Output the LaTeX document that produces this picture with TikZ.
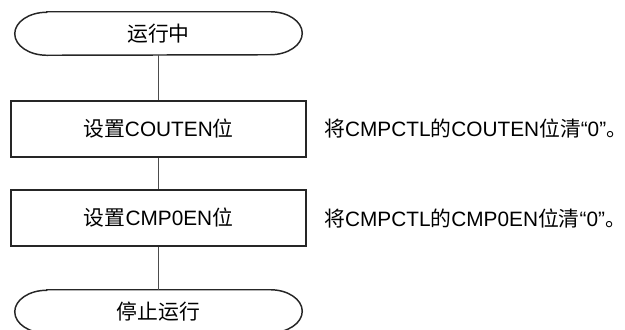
\documentclass[tikz,border=0pt]{standalone}
\usepackage{fontspec}
\setmainfont{Liberation Sans}
\newfontfamily\cjk{Noto Sans CJK SC}
\newcommand\fullstopmark{{\cjk\makebox[0.5em][l]{。}}}
\begin{document}
\begin{tikzpicture}[x=0.75pt,y=-0.75pt,
  txt/.style={font=\fontsize{15.6}{19}\selectfont},
  box/.style={txt,draw=black!85,line width=1.4pt,minimum width=221.25pt,minimum height=42pt,inner sep=0pt},
  term/.style={txt,minimum width=215.25pt,minimum height=32.25pt,inner sep=0pt},
  termline/.style={draw=black!85,line width=1.1pt},
  link/.style={draw=black!70,line width=0.8pt},
  note/.style={txt,anchor=west,inner sep=0pt}]
\useasboundingbox (0,0) rectangle (625,329);
\node[term] (t1) at (158.5,33.5) {\cjk 运行中};
\node[box] (b1) at (158.5,129) {{\cjk 设置}COUTEN{\cjk 位}};
\node[box] (b2) at (158.5,218) {{\cjk 设置}CMP0EN{\cjk 位}};
\node[term] (t2) at (158.5,311.5) {\cjk 停止运行};
\foreach \t in {t1,t2}{
  \draw[termline] ([xshift=24pt]\t.north west) -- ([xshift=-24pt]\t.north east)
    arc[start angle=90,end angle=-90,x radius=24pt,y radius=16.125pt]
    -- ([xshift=24pt]\t.south west)
    arc[start angle=270,end angle=90,x radius=24pt,y radius=16.125pt] -- cycle;
}
\draw[link] (t1.south) -- (b1.north);
\draw[link] (b1.south) -- (b2.north);
\draw[link] (b2.south) -- (t2.north);
\node[note] (n1) at (324,129) {{\cjk 将}CMPCTL{\cjk 的}COUTEN{\cjk 位清}“0”\fullstopmark};
\node[note] (n2) at (324,219) {{\cjk 将}CMPCTL{\cjk 的}CMP0EN{\cjk 位清}“0”\fullstopmark};
\end{tikzpicture}
\end{document}
